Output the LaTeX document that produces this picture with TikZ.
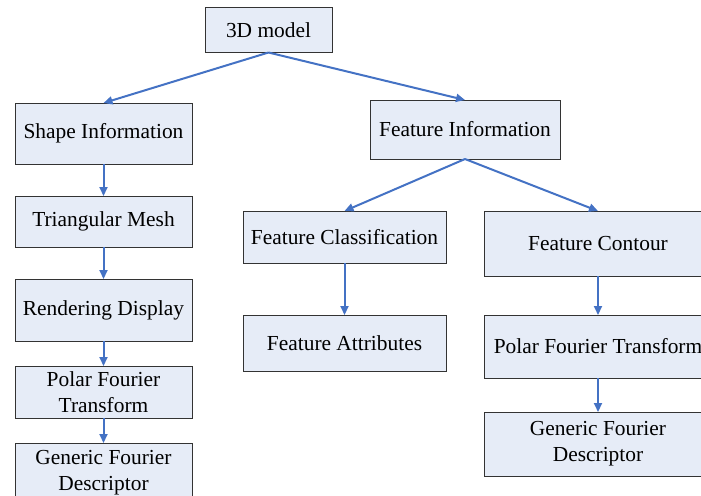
\documentclass[tikz,border=0pt]{standalone}
\usepackage{fontspec}
\setmainfont{Liberation Serif}
\usetikzlibrary{arrows.meta}
\definecolor{boxfill}{HTML}{E6ECF7}
\definecolor{linkblue}{HTML}{4472C4}
\newcommand\stage[5]{\node[stage,minimum width=#3,minimum height=#4] (#1) at (#2) {#5};}
\newcommand\connect[2]{\draw[link] (#1.south) -- (#2.north);}

\begin{document}
\begin{tikzpicture}[x=0.5pt,y=-0.5pt]
\tikzstyle{stage}=[draw=black!80,line width=0.5pt,fill=boxfill,inner sep=0pt,outer sep=0pt,align=center,font=\fontsize{10.7}{13}\selectfont]
\tikzstyle{link}=[linkblue,line width=1pt,-{Triangle[length=4.5pt,width=4pt]}]
\useasboundingbox (0,0) rectangle (701,495);

\stage{model}{268.5,30}{63.5pt}{22.5pt}{3D model}
\stage{shapeinfo}{103.5,133.5}{88.5pt}{30.5pt}{Shape Information}
\stage{featinfo}{465,129.5}{95pt}{29.5pt}{Feature Information}

%% left branch
\stage{mesh}{103.5,221.5}{88.5pt}{25.5pt}{Triangular Mesh}
\stage{render}{103.5,310}{88.5pt}{31pt}{Rendering Display}
\stage{polarl}{103.5,392}{88.5pt}{26pt}{Polar Fourier\\Transform}
\stage{genericl}{103.5,473}{88.5pt}{30pt}{Generic Fourier\\Descriptor}

%% right branch
\stage{classif}{344.5,237}{101.5pt}{26pt}{Feature Classification}
\stage{attrib}{344.5,343}{101.5pt}{28pt}{Feature Attributes}
\stage{contour}{598,243.5}{114pt}{32.5pt}{Feature Contour}
\stage{polarr}{598,346.5}{114pt}{31.5pt}{Polar Fourier Transform}
\stage{genericr}{598,444}{114pt}{32pt}{Generic Fourier\\Descriptor}

%% connections
\connect{model}{shapeinfo}
\connect{model}{featinfo}
\connect{shapeinfo}{mesh}
\connect{mesh}{render}
\connect{render}{polarl}
\connect{polarl}{genericl}
\connect{featinfo}{classif}
\connect{featinfo}{contour}
\connect{classif}{attrib}
\connect{contour}{polarr}
\connect{polarr}{genericr}
\end{tikzpicture}
\end{document}
